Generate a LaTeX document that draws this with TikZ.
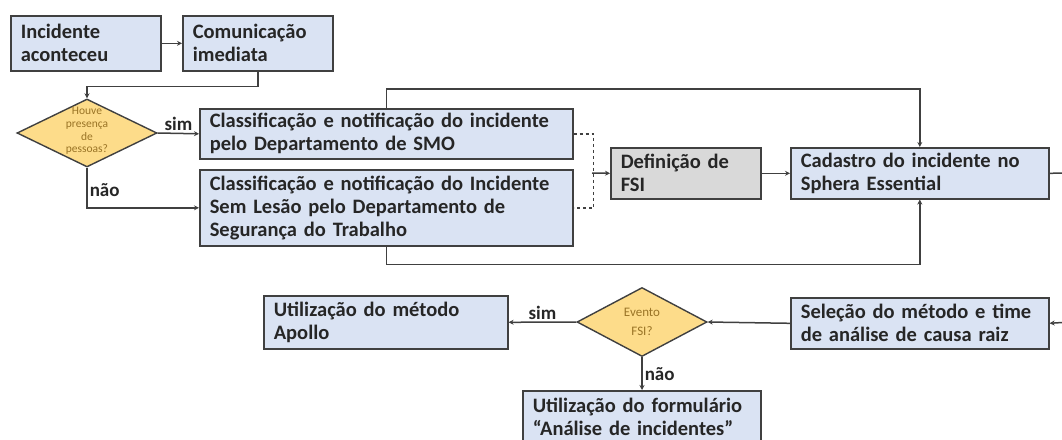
\documentclass[tikz,border=0pt]{standalone}
\usepackage{fontspec}
\setmainfont{Carlito}
\usepackage{tikz}
\usetikzlibrary{shapes.geometric,arrows.meta}
\definecolor{boxfill}{HTML}{DAE3F3}
\definecolor{decfill}{HTML}{FDDC8A}
\definecolor{greyfill}{HTML}{D9D9D9}
\definecolor{edge}{HTML}{404040}
\definecolor{ink}{HTML}{262626}
\definecolor{decink}{HTML}{9A7426}
\tikzset{
  box/.style={draw=edge, fill=boxfill, line width=1.6pt, anchor=north west, align=left,
    inner xsep=10pt, inner ysep=3pt, text=ink, font=\bfseries\fontsize{20.5}{23}\selectfont},
  greybox/.style={box, fill=greyfill},
  decision/.style={diamond, draw=edge, fill=decfill, line width=1.4pt, inner sep=0pt},
  dectext/.style={align=center, text=decink, inner sep=0pt},
  flow/.style={line width=1.5pt, draw=edge},
  tag/.style={text=ink, font=\bfseries\fontsize{19}{21}\selectfont, inner sep=2pt}
}

\begin{document}
\begin{tikzpicture}[x=1pt, y=-1pt, >={Stealth[length=5pt,width=5pt]}]
  \useasboundingbox[fill=white] (0,0) rectangle (1062,439);
  \clip (0,0) rectangle (1062,439);

  % Start
  \node[box, text width=130pt, minimum height=55pt] (incid) at (10,15) {Incidente\\aconteceu};
  \node[box, text width=130pt, minimum height=55pt] (comm) at (182,15) {Comunicação\\imediata};

  % First decision
  \node[decision, minimum width=140pt, minimum height=68pt] (q1) at (87,133) {};
  \node[dectext, font=\fontsize{11.5}{12.8}\selectfont] (q1txt) at ([yshift=2pt]q1) {Houve\\presença\\de\\pessoas?};

  % Classification
  \node[box, text width=353pt, minimum height=50pt] (class1) at (199,108)
    {Classificação e notificação do incidente\\pelo Departamento de SMO};
  \node[box, text width=353pt, minimum height=76pt] (class2) at (199,169)
    {Classificação e notificação do Incidente\\Sem Lesão pelo Departamento de\\Segurança do Trabalho};

  % FSI and Sphera
  \node[greybox, text width=130pt, minimum height=51pt] (fsi) at (610,147) {Definição de\\FSI};
  \node[box, text width=238pt, minimum height=51pt] (cad) at (790,147)
    {Cadastro do incidente no\\Sphera Essential};

  % Root cause row
  \node[box, text width=238pt, minimum height=51pt] (sel) at (790,297)
    {Seleção do método e time\\de análise de causa raiz};
  \node[decision, minimum width=130pt, minimum height=69pt] (q2) at (642,322) {};
  \node[dectext, font=\fontsize{13}{19}\selectfont] (q2txt) at (q2) {Evento\\FSI?};
  \node[box, text width=224pt, minimum height=53pt] (apollo) at (263,295)
    {Utilização do método\\Apollo};
  \node[box, text width=218pt, minimum height=52pt, inner ysep=1pt] (form) at (522,390)
    {Utilização do formulário\\“Análise de incidentes”};

  \coordinate (join) at (592,173);
  \coordinate (outR) at (1070,173);
  \coordinate (inR) at (1070,322);

  % Connectors
  \draw[flow, ->] (incid) -- (comm);
  \draw[flow, ->] (comm.south) -- ++(0,15) -| (q1.north);
  \draw[flow, ->] (q1.east) -- node[tag, above] (sim1) {sim} (class1.west);
  \draw[flow, ->] (q1.south) |- node[tag, pos=0.28, right] (nao1) {não} (class2.west);
  \draw[flow, dashed] (class1.east) -- ++(20,0) |- (class2.east);
  \draw[flow, ->] (join) -- (fsi.west);
  \draw[flow, ->] (fsi) -- (cad);
  \draw[flow, ->] (class1.north) -- ++(0,-19) -| (cad.north);
  \draw[flow, ->] (class2.south) -- ++(0,18) -| (cad.south);
  \draw[flow] (cad.east) -- (outR);
  \draw[flow, ->] (inR) -- (sel.east);
  \draw[flow, ->] (sel.west) -- (q2.east);
  \draw[flow, ->] (q2.west) -- node[tag, above] (sim2) {sim} (apollo.east);
  \draw[flow, ->] (q2.south) -- node[tag, right] (nao2) {não} (form.north -| q2.south);
\end{tikzpicture}
\end{document}
